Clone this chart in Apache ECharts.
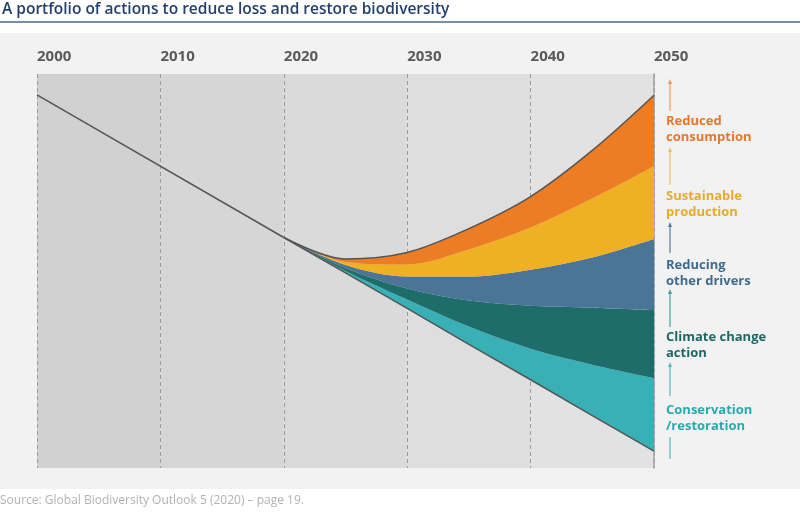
<!DOCTYPE html>
<html>
<head>
<meta charset="utf-8">
<script src="https://cdn.jsdelivr.net/npm/echarts@6/dist/echarts.min.js"></script>
<style>
html,body{margin:0;padding:0;background:#fff;}
#chart{width:800px;height:513px;}
</style>
</head>
<body>
<div id="chart"></div>
<script>
// ---- data ----
// historical decline 2000-2020
const historyYears = [2000, 2020];
const historyValues = [94.7, 58.5];
// projections 2020-2050
const years = [2020, 2025, 2030, 2035, 2040, 2045, 2050];
// business-as-usual trend (bottom line)
const baseline = [58.5, 49.5, 40.5, 31.4, 22.4, 13.3, 4.3];
// stacked contributions of each action (thickness of each band)
const conservation = [0, 0.51, 2.26, 4.49, 7.87, 12.9, 18.5];
const climate      = [0, 0.76, 2.79, 6.60, 10.9, 14.5, 17.3];
const otherDrivers = [0, 0.76, 3.05, 6.09, 9.14, 12.7, 18.0];
const production   = [0, 0.76, 3.05, 6.85, 10.7, 15.0, 18.5];
const consumption  = [0, 0.76, 3.05, 5.33, 7.87, 12.2, 18.0];
const decadeBands = [[2000, 2010], [2010, 2020], [2020, 2030], [2030, 2040], [2040, 2050]];
const bandColors = ['#d2d1d2', '#d6d6d6', '#dadada', '#dedede', '#e2e2e2'];
const labels = [
  {lines: ['Reduced', 'consumption'], color: '#e8772a', arrowColor: '#ec9a63'},
  {lines: ['Sustainable', 'production'], color: '#eaa92c', arrowColor: '#efc06a'},
  {lines: ['Reducing', 'other drivers'], color: '#3f6b8f', arrowColor: '#5b7b96'},
  {lines: ['Climate change', 'action'], color: '#1d6865', arrowColor: '#4a9a9a'},
  {lines: ['Conservation', '/restoration'], color: '#2ba9b1', arrowColor: '#5bb8bd'}
];
const title = 'A portfolio of actions to reduce loss and restore biodiversity';
const source = 'Source: Global Biodiversity Outlook 5 (2020) \u2013 page 19.';

// value first, year second (so that the stack sums the value dimension)
const pair = (xs, arr) => xs.map((y, i) => [arr[i], y]);

const FONT = '"Open Sans", "Noto Sans", sans-serif';

// ---- annotation graphics (right side) ----
const labelTops = [113, 188, 257, 329, 402];
const arrowSpans = [[80, 111], [148, 185], [223, 253], [290, 327], [363, 396]];
const graphics = [
  {type: 'rect', shape: {x: 0, y: 33, width: 800, height: 456}, style: {fill: '#f2f2f2'}, z: -10, silent: true},
  {type: 'text', left: 2, top: 2, style: {text: title, fill: '#24406c', font: '600 15.5px ' + FONT}},
  {type: 'line', shape: {x1: 0, y1: 22, x2: 800, y2: 22}, style: {stroke: '#4c6890', lineWidth: 1.5}},
  {type: 'text', left: 0, top: 495, style: {text: source, fill: '#b2b2b2', font: '12px ' + FONT}}
];
labels.forEach((l, i) => {
  graphics.push({type: 'text', left: 666, top: labelTops[i],
    style: {text: l.lines.join('\n'), fill: l.color, font: 'bold 13px ' + FONT, lineHeight: 16}});
  const [a, b] = arrowSpans[i];
  graphics.push({type: 'line', shape: {x1: 670, y1: a + 3, x2: 670, y2: b}, style: {stroke: l.arrowColor, lineWidth: 1.2}});
  graphics.push({type: 'polygon', shape: {points: [[670, a - 1], [668, a + 4], [672, a + 4]]}, style: {fill: l.arrowColor}});
});
graphics.push({type: 'line', shape: {x1: 670, y1: 437, x2: 670, y2: 459}, style: {stroke: '#5bb8bd', lineWidth: 1.2}});

const areaSeries = (name, data, color, extra) => Object.assign({
  name, type: 'line', stack: 'total', data: pair(years, data), encode: {x: 1, y: 0}, smooth: 0.33,
  showSymbol: false, symbol: 'none', z: 3,
  lineStyle: {width: 0, opacity: 0},
  areaStyle: {color: color, opacity: 1}
}, extra || {});

const option = {
  animation: false,
  backgroundColor: '#ffffff',
  grid: {left: 37, right: 146, top: 74, bottom: 45, containLabel: false},
  xAxis: {
    type: 'value', position: 'top', min: 2000, max: 2050, interval: 10, z: 1,
    axisLine: {show: false}, axisTick: {show: false},
    axisLabel: {align: 'left', margin: 10, color: '#5a5a5a', fontWeight: 'bold', fontSize: 15, fontFamily: FONT,
      formatter: v => String(v)},
    splitLine: {show: true, lineStyle: {color: '#9a9a9a', type: [4, 3], width: 1}}
  },
  yAxis: {
    type: 'value', position: 'right', min: 0, max: 100, z: 1,
    axisLine: {show: true, lineStyle: {color: '#a0a0a0', width: 1.5}},
    axisTick: {show: false}, axisLabel: {show: false}, splitLine: {show: false}
  },
  graphic: graphics,
  series: [
    {
      type: 'custom', z: 0, silent: true,
      data: decadeBands.map((b, i) => [b[0], b[1], i]),
      renderItem: (params, api) => {
        const p0 = api.coord([api.value(0), 100]);
        const p1 = api.coord([api.value(1), 0]);
        return {type: 'rect', shape: {x: p0[0], y: p0[1], width: p1[0] - p0[0], height: p1[1] - p0[1]},
          style: {fill: bandColors[api.value(2)]}};
      }
    },
    {
      name: 'History', type: 'line', data: pair(historyYears, historyValues), encode: {x: 1, y: 0},
      showSymbol: false, symbol: 'none', z: 4, lineStyle: {color: '#555555', width: 1.5}
    },
    {
      name: 'Baseline', type: 'line', stack: 'total', data: pair(years, baseline), encode: {x: 1, y: 0}, smooth: false,
      showSymbol: false, symbol: 'none', z: 4,
      lineStyle: {color: '#555555', width: 1.5}
    },
    areaSeries('Conservation/restoration', conservation, '#38b0b5'),
    areaSeries('Climate change action', climate, '#1f6d6a'),
    areaSeries('Reducing other drivers', otherDrivers, '#4a7596'),
    areaSeries('Sustainable production', production, '#efb024'),
    areaSeries('Reduced consumption', consumption, '#ec7d24', {lineStyle: {width: 1.5, color: '#555555'}, z: 4})
  ]
};

const chart = echarts.init(document.getElementById('chart'), null, {renderer: 'canvas'});
chart.setOption(option);
</script>
</body>
</html>
